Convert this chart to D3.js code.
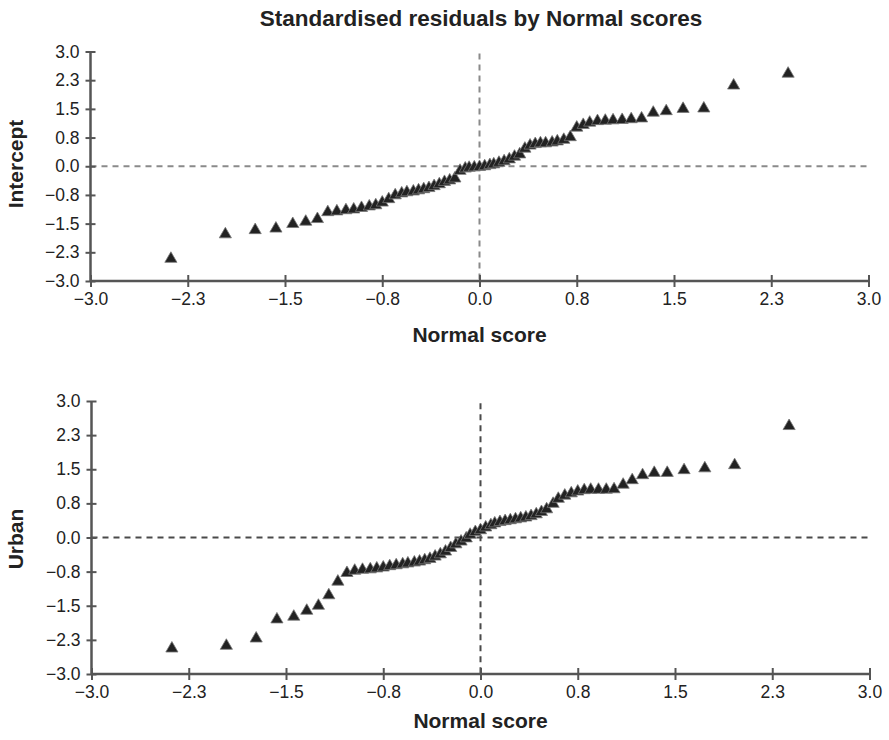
<!DOCTYPE html>
<html>
<head>
<meta charset="utf-8">
<script src="https://cdn.jsdelivr.net/npm/d3@7"></script>
<style>
  html, body { margin: 0; padding: 0; background: #fff; }
  svg { display: block; font-family: "Liberation Sans", Arial, Helvetica, sans-serif; }
</style>
</head>
<body>
<svg id="chart" width="889" height="740"></svg>
<script>
// ---- Data ----
const chartTitle = "Standardised residuals by Normal scores";
const xTitle = "Normal score";
const panelNames = ["Intercept", "Urban"];

// normal scores (shared by both panels), ranked
const normalScores = [
  -2.38, -1.96, -1.73, -1.57, -1.44, -1.34, -1.25, -1.17, -1.10, -1.03,
  -0.97, -0.91, -0.85, -0.80, -0.75, -0.70, -0.65, -0.60, -0.56, -0.51,
  -0.47, -0.43, -0.39, -0.35, -0.31, -0.27, -0.23, -0.19, -0.15, -0.11,
  -0.08, -0.04, 0.00, 0.04, 0.08, 0.11, 0.15, 0.19, 0.23, 0.27,
  0.31, 0.35, 0.39, 0.43, 0.47, 0.51, 0.56, 0.60, 0.65, 0.70,
  0.75, 0.80, 0.85, 0.91, 0.97, 1.03, 1.10, 1.17, 1.25, 1.34,
  1.44, 1.57, 1.73, 1.96, 2.38
];

// standardised residuals, Intercept
const interceptResiduals = [
  -2.42, -1.78, -1.67, -1.63, -1.51, -1.45, -1.38, -1.20, -1.18, -1.15,
  -1.13, -1.09, -1.05, -1.02, -0.95, -0.86, -0.76, -0.71, -0.68, -0.66,
  -0.63, -0.60, -0.57, -0.52, -0.47, -0.41, -0.37, -0.32, -0.12, -0.06,
  -0.04, -0.03, -0.02, 0.00, 0.03, 0.05, 0.09, 0.13, 0.18, 0.25,
  0.31, 0.46, 0.54, 0.58, 0.60, 0.60, 0.62, 0.65, 0.69, 0.76,
  1.01, 1.08, 1.14, 1.18, 1.19, 1.20, 1.21, 1.23, 1.25, 1.40,
  1.44, 1.50, 1.51, 2.11, 2.42
];

// standardised residuals, Urban
const urbanResiduals = [
  -2.44, -2.38, -2.22, -1.80, -1.74, -1.61, -1.50, -1.27, -0.97, -0.78,
  -0.73, -0.71, -0.70, -0.68, -0.66, -0.63, -0.61, -0.59, -0.57, -0.55,
  -0.53, -0.50, -0.47, -0.42, -0.37, -0.31, -0.23, -0.15, -0.09, -0.02,
  0.06, 0.12, 0.16, 0.22, 0.27, 0.31, 0.34, 0.36, 0.38, 0.40,
  0.42, 0.44, 0.47, 0.51, 0.56, 0.62, 0.74, 0.85, 0.92, 0.97,
  1.01, 1.04, 1.05, 1.05, 1.05, 1.06, 1.16, 1.26, 1.37, 1.42,
  1.42, 1.48, 1.52, 1.59, 2.45
];

const tickValues = [-3, -2.25, -1.5, -0.75, 0, 0.75, 1.5, 2.25, 3];
const tickLabels = ["\u22123.0", "\u22122.3", "\u22121.5", "\u22120.8", "0.0", "0.8", "1.5", "2.3", "3.0"];

// ---- Drawing ----
const svg = d3.select("#chart");

svg.append("text")
  .attr("x", 481).attr("y", 26)
  .attr("text-anchor", "middle")
  .attr("font-size", 22.5).attr("font-weight", "bold")
  .attr("fill", "#222")
  .text(chartTitle);

const panels = [
  { name: panelNames[0], values: interceptResiduals, left: 90.5, right: 868.5, top: 51.5, bottom: 281, titleY: 342, labelY: 164, dash: "#8a8a8a" },
  { name: panelNames[1], values: urbanResiduals, left: 91.5, right: 869.5, top: 401, bottom: 674, titleY: 728, labelY: 539, dash: "#4a4a4a" }
];

const tickFmt = v => tickLabels[tickValues.indexOf(v)];

panels.forEach(p => {
  const x = d3.scaleLinear().domain([-3, 3]).range([p.left, p.right]);
  const y = d3.scaleLinear().domain([-3, 3]).range([p.bottom, p.top]);
  const g = svg.append("g");

  // reference dashed lines
  g.append("line")
    .attr("x1", x(-3)).attr("x2", x(3))
    .attr("y1", y(0)).attr("y2", y(0))
    .attr("stroke", p.dash).attr("stroke-width", 2)
    .attr("stroke-dasharray", "6,5");
  g.append("line")
    .attr("x1", x(0)).attr("x2", x(0))
    .attr("y1", y(2.95)).attr("y2", y(-3))
    .attr("stroke", p.dash).attr("stroke-width", 2)
    .attr("stroke-dasharray", "6,5");

  // axes
  const yAxis = d3.axisLeft(y).tickValues(tickValues).tickFormat(tickFmt).tickSize(5).tickPadding(6);
  const xAxis = d3.axisBottom(x).tickValues(tickValues).tickFormat(tickFmt).tickSize(6).tickPadding(6);

  const gy = g.append("g").attr("transform", `translate(${p.left},0)`).call(yAxis);
  const gx = g.append("g").attr("transform", `translate(0,${p.bottom})`).call(xAxis);

  [gx, gy].forEach(ax => {
    ax.select(".domain").attr("stroke", "#555").attr("stroke-width", 2.5);
    ax.selectAll(".tick line").attr("stroke", "#555").attr("stroke-width", 2);
    ax.selectAll(".tick text").attr("font-size", 17.5).attr("fill", "#222")
      .attr("font-family", "'Liberation Sans', Arial, sans-serif");
  });
  gy.selectAll(".tick line").attr("x1", 5).attr("x2", -5);
  gx.selectAll(".tick line").attr("y1", -6).attr("y2", 6);
  gy.select(".domain").attr("d", `M0,${p.top}V${p.bottom}`);
  gx.select(".domain").attr("d", `M${p.left},0H${p.right}`);

  // points
  const sym = d3.symbol().type(d3.symbolTriangle).size(64);
  g.append("g").selectAll("path")
    .data(p.values.map((v, i) => ({ x: normalScores[i], y: v })))
    .join("path")
    .attr("d", sym)
    .attr("transform", d => `translate(${x(d.x)},${y(d.y)})`)
    .attr("fill", "#222")
    .attr("stroke", "#777").attr("stroke-width", 0.8);

  // axis titles
  svg.append("text")
    .attr("x", (p.left + p.right) / 2).attr("y", p.titleY)
    .attr("text-anchor", "middle")
    .attr("font-size", 21).attr("font-weight", "bold").attr("fill", "#222")
    .text(xTitle);
  svg.append("text")
    .attr("transform", `translate(23,${p.labelY}) rotate(-90)`)
    .attr("text-anchor", "middle")
    .attr("font-size", 21).attr("font-weight", "bold").attr("fill", "#222")
    .text(p.name);
});
</script>
</body>
</html>
